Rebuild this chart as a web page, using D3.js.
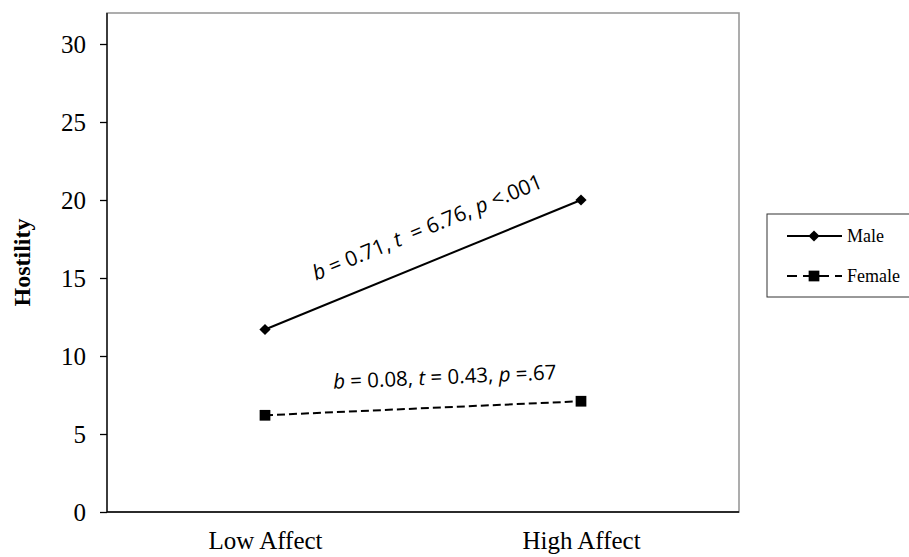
<!DOCTYPE html>
<html>
<head>
<meta charset="utf-8">
<script src="https://cdn.jsdelivr.net/npm/d3@7"></script>
<style>
body { margin: 0; background: #fff; }
svg { display: block; }
</style>
</head>
<body>
<svg id="chart" width="909" height="557"></svg>
<script>
const categories = ["Low Affect", "High Affect"];
const maleValues = [11.7, 20.0];
const femaleValues = [6.2, 7.1];
const yTicks = [0, 5, 10, 15, 20, 25, 30];
const seriesNames = ["Male", "Female"];
const maleNote = [["b", true], [" = 0.71, ", false], ["t", true], ["  = 6.76, ", false], ["p", true], [" <.001", false]];
const femaleNote = [["b", true], [" = 0.08, ", false], ["t", true], [" = 0.43, ", false], ["p", true], [" =.67", false]];

(function () {
const svg = d3.select("#chart");
const pL = 107, pR = 739, pT = 13, pB = 512;
const serif = "Liberation Serif, Times New Roman, serif";

const x = d3.scalePoint().domain(categories).range([pL, pR]).padding(0.5);
const y = d3.scaleLinear().domain([0, 30]).range([pB, 44]);

// frame
svg.append("rect").attr("x", pL).attr("y", pT).attr("width", pR - pL).attr("height", pB - pT)
  .attr("fill", "none").attr("stroke", "#999").attr("stroke-width", 1.6);

// y axis
const yAxis = svg.append("g").attr("transform", `translate(${pL},0)`)
  .call(d3.axisLeft(y).tickValues(yTicks).tickSize(7).tickPadding(14).tickFormat(d3.format("d")));
yAxis.select(".domain").attr("stroke", "#000").attr("stroke-width", 1.3).attr("d", `M0,${pB}V${pT}`);
yAxis.selectAll(".tick line").attr("stroke", "#000").attr("stroke-width", 1.3);
yAxis.selectAll(".tick text").attr("font-family", serif).attr("font-size", 25).attr("fill", "#000");

// x axis
const xAxis = svg.append("g").attr("transform", `translate(0,${pB})`)
  .call(d3.axisBottom(x).tickSize(0).tickPadding(19));
xAxis.select(".domain").attr("stroke", "#000").attr("stroke-width", 1.3).attr("d", `M${pL},0H${pR}`);
xAxis.selectAll(".tick text").attr("font-family", serif).attr("font-size", 25).attr("fill", "#000");

// y label
svg.append("text").attr("transform", `translate(30,${(pT + pB) / 2}) rotate(-90)`)
  .attr("text-anchor", "middle").attr("font-family", serif)
  .attr("font-weight", "bold").attr("font-size", 24).text("Hostility");

const line = d3.line().x((d, i) => x(categories[i])).y(d => y(d));
const diamond = d3.symbol().type(d3.symbolDiamond2).size(80);
const square = d3.symbol().type(d3.symbolSquare).size(115);

// male
svg.append("path").datum(maleValues).attr("d", line).attr("fill", "none").attr("stroke", "#000").attr("stroke-width", 2);
svg.selectAll(".mpt").data(maleValues).enter().append("path")
  .attr("d", diamond).attr("transform", (d, i) => `translate(${x(categories[i])},${y(d)})`).attr("fill", "#000");

// female
svg.append("path").datum(femaleValues).attr("d", line).attr("fill", "none").attr("stroke", "#000").attr("stroke-width", 2).attr("stroke-dasharray", "8,4");
svg.selectAll(".fpt").data(femaleValues).enter().append("path")
  .attr("d", square).attr("transform", (d, i) => `translate(${x(categories[i])},${y(d)})`).attr("fill", "#000");

// annotations
function note(parts, tx, ty, angle, size) {
  const t = svg.append("text").attr("transform", `translate(${tx},${ty}) rotate(${angle})`)
    .attr("font-family", "Open Sans, Liberation Sans, sans-serif").attr("font-size", size).attr("fill", "#000")
    .attr("text-anchor", "middle").attr("xml:space", "preserve");
  parts.forEach(p => t.append("tspan").attr("font-style", p[1] ? "italic" : "normal").text(p[0]));
}
const ang = Math.atan2(y(maleValues[1]) - y(maleValues[0]), x(categories[1]) - x(categories[0])) * 180 / Math.PI;
note(maleNote, 430, 234, ang, 21);
note(femaleNote, 445, 384, -2.5, 20.5);

// legend
const lg = svg.append("g");
lg.append("rect").attr("x", 767).attr("y", 214).attr("width", 150).attr("height", 83)
  .attr("fill", "#fff").attr("stroke", "#333").attr("stroke-width", 1);
const legY = [236, 276];
lg.append("line").attr("x1", 787).attr("x2", 842).attr("y1", legY[0]).attr("y2", legY[0]).attr("stroke", "#000").attr("stroke-width", 2);
lg.append("path").attr("d", diamond).attr("transform", `translate(814,${legY[0]})`).attr("fill", "#000");
lg.append("line").attr("x1", 787).attr("x2", 842).attr("y1", legY[1]).attr("y2", legY[1]).attr("stroke", "#000").attr("stroke-width", 2).attr("stroke-dasharray", "10,6");
lg.append("path").attr("d", square).attr("transform", `translate(814,${legY[1]})`).attr("fill", "#000");
seriesNames.forEach((n, i) => lg.append("text").attr("x", 847).attr("y", legY[i] + 6)
  .attr("font-family", serif).attr("font-size", 18).text(n));
})();
</script>
</body>
</html>
